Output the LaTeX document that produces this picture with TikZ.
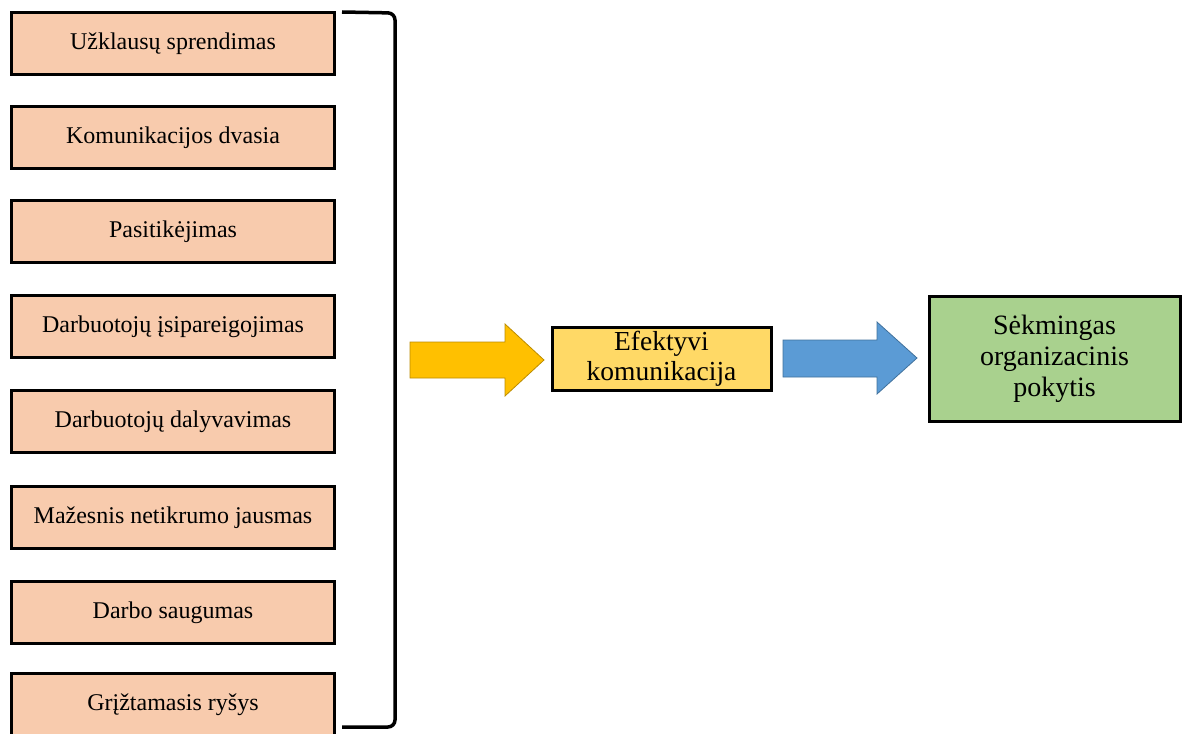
\documentclass[tikz,border=0pt]{standalone}
\usepackage{fontspec}
\setmainfont{Liberation Serif}
\definecolor{peach}{HTML}{F8CBAD}
\definecolor{ybox}{HTML}{FFD966}
\definecolor{gbox}{HTML}{A9D18E}
\definecolor{yarrow}{HTML}{FFC000}
\definecolor{yarrowline}{HTML}{BC8C00}
\definecolor{barrow}{HTML}{5B9BD5}
\definecolor{barrowline}{HTML}{41719C}
\begin{document}
\begin{tikzpicture}[x=1pt,y=1pt,
  lbox/.style={draw=black, line width=3pt, fill=peach, minimum width=323pt, minimum height=62pt, inner sep=0pt, anchor=north west, font=\fontsize{24}{27}\selectfont},
  cbox/.style={draw=black, line width=3pt, inner sep=0pt, anchor=north west, align=center},
  bigarrow/.style={line width=0.8pt}
]
\useasboundingbox (0,0) rectangle (1182,-733);
\node[lbox] (b1) at (10,-11) {Užklausų sprendimas};
\node[lbox] (b2) at (10,-105) {Komunikacijos dvasia};
\node[lbox] (b3) at (10,-199) {Pasitikėjimas};
\node[lbox] (b4) at (10,-294) {Darbuotojų įsipareigojimas};
\node[lbox] (b5) at (10,-389) {Darbuotojų dalyvavimas};
\node[lbox] (b6) at (10,-485) {Mažesnis netikrumo jausmas};
\node[lbox] (b7) at (10,-580) {Darbo saugumas};
\node[lbox] (b8) at (10,-672) {Grįžtamasis ryšys};
% bracket
\draw[line width=3.5pt, rounded corners=7pt] (342,-12) -- (395,-13) -- (395,-727) -- (342,-727);
% yellow arrow
\draw[bigarrow, draw=yarrowline, fill=yarrow] (410,-342) -- (505,-342) -- (505,-324) -- (544,-360) -- (505,-396) -- (505,-378) -- (410,-378) -- cycle;
\node[cbox, fill=ybox, minimum width=219pt, minimum height=63pt, font=\fontsize{27.5}{30}\selectfont] (ek) at (550.5,-325.5) {Efektyvi\\komunikacija};
% blue arrow
\draw[bigarrow, draw=barrowline, fill=barrow] (783,-340) -- (877,-340) -- (877,-322) -- (917,-358) -- (877,-394) -- (877,-377) -- (783,-377) -- cycle;
\node[cbox, fill=gbox, minimum width=251pt, minimum height=125pt, font=\fontsize{28}{31}\selectfont] (sop) at (927.5,-294.5) {Sėkmingas\\organizacinis\\pokytis};
\end{tikzpicture}
\end{document}
